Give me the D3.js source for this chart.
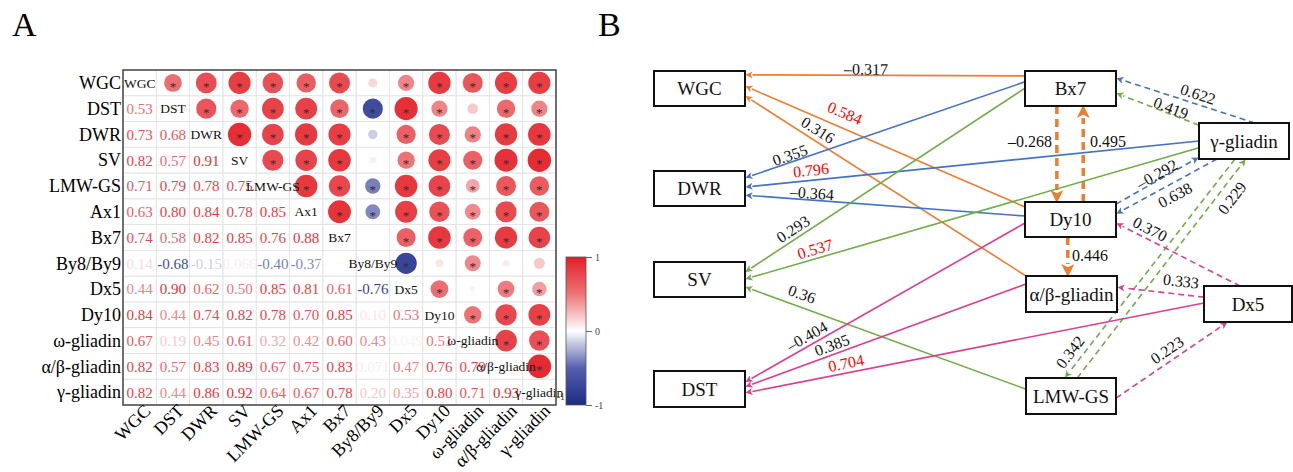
<!DOCTYPE html>
<html>
<head>
<meta charset="utf-8">
<script src="https://cdn.jsdelivr.net/npm/d3@7"></script>
<style>
  body{margin:0;background:#fff;}
  svg{display:block;}
</style>
</head>
<body>
<svg id="chart" width="1293" height="472"></svg>
<script>
// ---------- data: panel A (correlation matrix) ----------
const vars = ["WGC","DST","DWR","SV","LMW-GS","Ax1","Bx7","By8/By9","Dx5","Dy10","ω-gliadin","α/β-gliadin","γ-gliadin"];
// lower triangle, row i has correlations with columns 0..i-1
const corrLower = [
  [],
  [0.53],
  [0.73,0.68],
  [0.82,0.57,0.91],
  [0.71,0.79,0.78,0.75],
  [0.63,0.80,0.84,0.78,0.85],
  [0.74,0.58,0.82,0.85,0.76,0.88],
  [0.14,-0.68,-0.15,0.066,-0.40,-0.37,0.004],
  [0.44,0.90,0.62,0.50,0.85,0.81,0.61,-0.76],
  [0.84,0.44,0.74,0.82,0.78,0.70,0.85,0.10,0.53],
  [0.67,0.19,0.45,0.61,0.32,0.42,0.60,0.43,0.049,0.51],
  [0.82,0.57,0.83,0.89,0.67,0.75,0.83,0.071,0.47,0.76,0.79],
  [0.82,0.44,0.86,0.92,0.64,0.67,0.78,0.20,0.35,0.80,0.71,0.93]
];
const sigCutoff = 0.3;          // |r| above this gets a star
const legendTicks = [1,0,-1];

// ---------- data: panel B (path diagram) ----------
const traits = ["WGC","DWR","SV","DST"];
const pathFrom  = ["Bx7","Dy10","α/β-gliadin","Bx7","Dy10","Dy10",
                   "Bx7","γ-gliadin","Dy10","γ-gliadin","Dy10","γ-gliadin",
                   "Bx7","γ-gliadin","LMW-GS","γ-gliadin","γ-gliadin","LMW-GS",
                   "Dy10","α/β-gliadin","Dx5","Dx5","Dx5","LMW-GS"];
const pathTo    = ["WGC","WGC","WGC","Dy10","Bx7","α/β-gliadin",
                   "DWR","DWR","DWR","Bx7","γ-gliadin","Dy10",
                   "SV","SV","SV","Bx7","LMW-GS","γ-gliadin",
                   "DST","DST","DST","Dy10","α/β-gliadin","Dx5"];
const pathCoef  = ["–0.317","0.584","0.316","–0.268","0.495","0.446",
                   "0.355","0.796","–0.364","0.622","–0.292","0.638",
                   "0.293","0.537","0.36","0.419","0.342","0.229",
                   "–0.404","0.385","0.704","0.370","0.333","0.223"];
const pathModel = ["WGC","WGC","WGC","WGC","WGC","WGC",
                   "DWR","DWR","DWR","DWR","DWR","DWR",
                   "SV","SV","SV","SV","SV","SV",
                   "DST","DST","DST","DST","DST","DST"];

// ---------- layout (positions only) ----------
const serif = "'Liberation Serif','Times New Roman',serif";
const boxLayout = {
  "WGC":[654,71,91,35], "DWR":[654,171,91,35], "SV":[654,262,91,35], "DST":[654,371,91,36],
  "Bx7":[1025,71,91,35], "Dy10":[1025,202,91,35], "α/β-gliadin":[1026,276,91,36],
  "LMW-GS":[1026,378,90,36], "γ-gliadin":[1199,123,90,36], "Dx5":[1204,286,88,36]
};
// ports as fractions of box [sx,sy,tx,ty]
const ports = [
  [0,.14,1,.11],[0,.14,1,.43],[0,0,1,.71],[.35,1,.35,0],[.64,0,.64,1],[.47,1,.46,0],
  [0,.31,1,.2],[0,.5,1,.46],[0,.4,1,.69],[.62,0,1,.2],[1,.06,0,.95],[.2,1,1,.34],
  [0,.49,1,.29],[0,.69,1,.49],[0,.31,1,.71],[0,.06,1,.63],[.4,1,.43,0],[.57,0,.52,1],
  [0,.6,1,.31],[0,.22,1,.44],[0,.47,1,.61],[.41,0,1,.6],[0,.31,1,.31],[1,.56,.27,1]
];
const labelPos = [
  [866,69],[845,113],[818,130],[1030,141],[1108,141],[1090,255],
  [790,155],[811,170],[812,193],[1198,94],[1157,174],[1175,195],
  [793,229],[815,249],[802,294],[1171,108],[1070,352],[1232,198],
  [807,336],[832,345],[846,363],[1150,229],[1181,281],[1167,350]
];

const svg = d3.select("#chart");

// ================= Panel A =================
svg.append("text").attr("x",12).attr("y",36)
  .attr("font-family",serif).attr("font-size",34).text("A");

const x = d3.scaleBand().domain(vars).range([123,556]);
const y = d3.scaleBand().domain(vars).range([70,405]);
const color = d3.scaleLinear().domain([-1,-0.5,0,0.5,1])
  .range(["#1b2a85","#5560ad","#ffffff","#ee7377","#e41e26"]);
const rad = d3.scaleSqrt().domain([0,1]).range([0,12.2]);
const fmt = v => (Math.abs(v) < 0.095 ? d3.format(".2r")(v) : d3.format(".2f")(v)).replace("−","-");

const cells = [];
vars.forEach((rv,i)=>vars.forEach((cv,j)=>{
  let v = null;
  if(j<i) v = corrLower[i][j];
  else if(j>i) v = corrLower[j][i];
  cells.push({row:rv,col:cv,i,j,v});
}));

const gA = svg.append("g");
gA.selectAll("rect.cell").data(cells).join("rect")
  .attr("x",d=>x(d.col)).attr("y",d=>y(d.row))
  .attr("width",x.bandwidth()).attr("height",y.bandwidth())
  .attr("fill","none").attr("stroke","#e4e4e4").attr("stroke-width",0.8);

// lower triangle numbers
gA.selectAll("text.num").data(cells.filter(d=>d.j<d.i)).join("text")
  .attr("x",d=>x(d.col)+x.bandwidth()/2).attr("y",d=>y(d.row)+y.bandwidth()/2)
  .attr("dy","0.36em").attr("text-anchor","middle")
  .attr("font-family",serif).attr("font-size",15)
  .attr("fill",d=>color(d.v)).text(d=>fmt(d.v));

// upper triangle circles
const up = cells.filter(d=>d.j>d.i);
gA.selectAll("circle").data(up).join("circle")
  .attr("cx",d=>x(d.col)+x.bandwidth()/2).attr("cy",d=>y(d.row)+y.bandwidth()/2)
  .attr("r",d=>rad(Math.abs(d.v))).attr("fill",d=>color(d.v));
gA.selectAll("text.star").data(up.filter(d=>Math.abs(d.v)>sigCutoff)).join("text")
  .attr("x",d=>x(d.col)+x.bandwidth()/2).attr("y",d=>y(d.row)+y.bandwidth()/2)
  .attr("dy","0.62em").attr("text-anchor","middle")
  .attr("font-family",serif).attr("font-size",13).attr("fill","#3a2a2a").text("*");

// diagonal names
gA.selectAll("text.diag").data(vars).join("text")
  .attr("x",d=>x(d)+x.bandwidth()/2).attr("y",d=>y(d)+y.bandwidth()/2)
  .attr("dy","0.35em").attr("text-anchor","middle")
  .attr("font-family",serif).attr("font-size",13.5).attr("fill","#111").text(d=>d);

// frame
gA.append("rect").attr("x",123).attr("y",70).attr("width",433).attr("height",335)
  .attr("fill","none").attr("stroke","#444").attr("stroke-width",1.5);

// row labels
gA.selectAll("text.ylab").data(vars).join("text")
  .attr("x",121).attr("y",d=>y(d)+y.bandwidth()/2).attr("dy","0.35em")
  .attr("text-anchor","end").attr("font-family",serif).attr("font-size",18).text(d=>d);
// column labels
gA.selectAll("text.xlab").data(vars).join("text")
  .attr("transform",d=>`translate(${x(d)+x.bandwidth()/2+12},412) rotate(-45)`)
  .attr("text-anchor","end").attr("font-family",serif).attr("font-size",18).text(d=>d);

// colour legend
const ly = d3.scaleLinear().domain([1,-1]).range([257,405]);
svg.append("text").attr("x",565).attr("y",ly(-1)-5).attr("text-anchor","end")
  .attr("font-family",serif).attr("font-size",10).attr("fill","#444").text("-1");
const grad = svg.append("defs").append("linearGradient").attr("id","cbar")
  .attr("x1",0).attr("y1",0).attr("x2",0).attr("y2",1);
d3.range(0,1.0001,0.05).forEach(t=>{
  grad.append("stop").attr("offset",t).attr("stop-color",color(1-2*t));
});
svg.append("rect").attr("x",566).attr("y",ly(1)).attr("width",20).attr("height",ly(-1)-ly(1))
  .attr("fill","url(#cbar)").attr("stroke","#555").attr("stroke-width",0.8);
const lg = svg.append("g").attr("transform","translate(586,0)")
  .call(d3.axisRight(ly).tickValues(legendTicks).tickSize(6).tickFormat(d=>String(d).replace("−","-")));
lg.select(".domain").remove();
lg.selectAll("line").attr("stroke","#666");
lg.selectAll("text").attr("font-family",serif).attr("font-size",10).attr("fill","#444");

// ================= Panel B =================
svg.append("text").attr("x",598).attr("y",36)
  .attr("font-family",serif).attr("font-size",34).text("B");

const modelColor = d3.scaleOrdinal().domain(traits)
  .range(["#ed7d31","#4472c4","#70ad47","#dc3f92"]);

const defs = svg.select("defs");
function marker(id,col,w,h){
  defs.append("marker").attr("id",id).attr("viewBox","0 0 10 10")
    .attr("refX",0).attr("refY",5).attr("markerUnits","userSpaceOnUse")
    .attr("markerWidth",w).attr("markerHeight",h).attr("orient","auto")
    .append("path").attr("d","M0,0 L10,5 L0,10 L2.5,5 z").attr("fill",col);
}
traits.forEach(t=>{
  marker("a-"+t, modelColor(t), 8, 7);
  marker("b-"+t, modelColor(t), 13, 13);
});

const pt = (name,fx,fy)=>{const b=boxLayout[name];return [b[0]+fx*b[2], b[1]+fy*b[3]];};
const edges = pathFrom.map((f,k)=>{
  const p = ports[k];
  const s = pt(f,p[0],p[1]), t = pt(pathTo[k],p[2],p[3]);
  const dashed = !traits.includes(pathTo[k]);
  const thick = dashed && pathModel[k]==="WGC";
  const val = parseFloat(pathCoef[k].replace("–","-"));
  return {k,s,t,dashed,thick,model:pathModel[k],label:pathCoef[k],
          red: !dashed && val>0.5, lp:labelPos[k]};
});

const gB = svg.append("g");
gB.selectAll("line.edge").data(edges).join("line")
  .each(function(d){
    const len = d.thick ? 12 : 7.5;
    const dx=d.t[0]-d.s[0], dy=d.t[1]-d.s[1], L=Math.hypot(dx,dy);
    d3.select(this).attr("x1",d.s[0]).attr("y1",d.s[1])
      .attr("x2",d.t[0]-dx/L*len).attr("y2",d.t[1]-dy/L*len);
  })
  .attr("stroke",d=>modelColor(d.model))
  .attr("stroke-width",d=>d.thick?3.5:1.6)
  .attr("stroke-dasharray",d=>d.thick?"8,5":(d.dashed?"6,4":null))
  .attr("marker-end",d=>`url(#${d.thick?"b":"a"}-${d.model})`);

gB.selectAll("text.coef").data(edges).join("text")
  .attr("transform",d=>{
    let ang = Math.atan2(d.t[1]-d.s[1], d.t[0]-d.s[0])*180/Math.PI;
    if(ang>90) ang-=180; if(ang<-90) ang+=180;
    if(Math.abs(Math.abs(ang)-90)<5) ang=0;
    return `translate(${d.lp[0]},${d.lp[1]}) rotate(${ang})`;
  })
  .attr("dy","0.35em").attr("text-anchor","middle")
  .attr("font-family",serif).attr("font-size",16)
  .attr("fill",d=>d.red?"#ff0000":"#111").text(d=>d.label);

const boxes = Object.keys(boxLayout);
gB.selectAll("rect.box").data(boxes).join("rect")
  .attr("x",d=>boxLayout[d][0]).attr("y",d=>boxLayout[d][1])
  .attr("width",d=>boxLayout[d][2]).attr("height",d=>boxLayout[d][3])
  .attr("fill","#fff").attr("stroke","#111").attr("stroke-width",2);
gB.selectAll("text.box").data(boxes).join("text")
  .attr("x",d=>boxLayout[d][0]+boxLayout[d][2]/2).attr("y",d=>boxLayout[d][1]+boxLayout[d][3]/2)
  .attr("dy","0.35em").attr("text-anchor","middle")
  .attr("font-family",serif).attr("font-size",19).attr("fill","#111").text(d=>d);
</script>
</body>
</html>
